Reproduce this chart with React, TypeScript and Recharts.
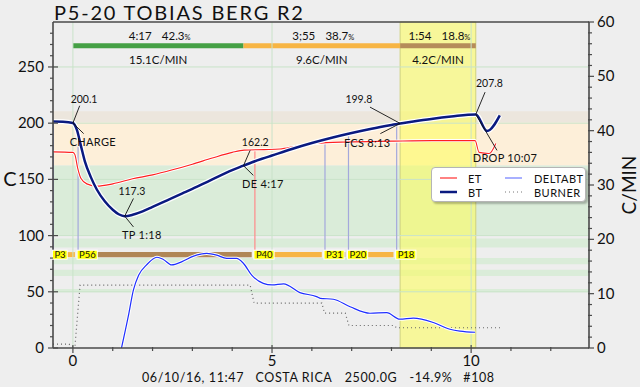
import { LineChart, Line, XAxis, YAxis, ReferenceArea, ReferenceLine, ReferenceDot, Legend } from "recharts";

const FONT = "Lato, 'DejaVu Sans', sans-serif";
const AXIS = "#4a4a4a";

// minutes after charge -> degrees C
const btCurve = [
  [-0.5, 201.5], [-0.25, 201.3], [0, 200.1], [0.1, 194], [0.2, 180], [0.3, 166], [0.45, 152], [0.6, 141],
  [0.8, 130.5], [1.0, 123], [1.15, 119], [1.3, 117.3], [1.5, 118.5], [1.75, 121.5], [2.0, 125.5], [2.25, 129.5],
  [2.5, 133.5], [2.75, 137.5], [3.0, 141.5], [3.25, 145.7], [3.5, 150], [3.75, 154.2], [4.0, 158.3], [4.283, 162.2],
  [4.5, 165.2], [4.75, 168.3], [5.0, 171.2], [5.5, 177], [6.0, 182.3], [6.5, 187], [7.0, 191.2], [7.5, 195],
  [8.0, 198.4], [8.217, 199.8], [8.5, 201.3], [9.0, 203.8], [9.5, 205.9], [10.117, 207.8], [10.4, 193], [10.72, 207],
];

const etCurve = [
  [-0.5, 174.5], [0, 174], [0.05, 172], [0.12, 160], [0.2, 151], [0.35, 146], [0.6, 144], [1.0, 146],
  [1.5, 150.5], [2.0, 154], [2.5, 158.5], [3.0, 163.5], [3.5, 169], [4.0, 174], [4.3, 176], [4.8, 176.5],
  [5.2, 177], [5.6, 179.5], [6.1, 182], [6.9, 183.3], [8.0, 184], [9.0, 184.5], [10.1, 184.5], [10.2, 174],
  [10.45, 173], [10.62, 182],
];

// C/min, right axis
const deltaBtCurve = [
  [1.22, 0], [1.39, 5.8], [1.52, 10.7], [1.65, 13.4], [1.85, 15.3], [2.11, 16.7], [2.27, 16.3], [2.48, 15.3],
  [2.74, 15.9], [3.03, 16.9], [3.36, 17.4], [3.61, 17.1], [3.86, 16.5], [4.11, 16.5], [4.28, 15.6], [4.49, 13.4],
  [4.78, 11.9], [5.0, 11.6], [5.29, 11.8], [5.7, 10.2], [6.12, 9.45], [6.21, 9.15], [6.54, 8.97], [6.96, 7.6],
  [7.46, 6.4], [7.88, 6.5], [8.21, 5.3], [8.55, 5.5], [9.05, 4.7], [9.47, 3.45], [9.72, 3.1], [10.1, 2.9],
];

// burner %, drawn on the temperature axis
const burnerCurve = [
  [-0.5, 3.5], [-0.1, 3.5], [0, 1], [0.05, 1], [0.18, 56], [4.45, 56], [4.55, 40], [6.25, 40],
  [6.32, 31], [6.84, 31], [6.93, 20], [8.06, 20], [8.13, 18], [10.75, 18],
];

const eventLabels = ["P3", "P56", "P40", "P31", "P20", "P18"];
const eventTimes = [-0.49, 0.13, 4.57, 6.33, 6.92, 8.13];
const eventTops = [201.5, 179, 176, 186.5, 191, 199.3];
const eventCurve = ["BT", "BT", "ET", "BT", "BT", "BT"];

const phaseStart = [0, 4.283, 8.217];
const phaseEnd = [4.283, 8.217, 10.117];
const phaseTime = ["4:17", "3;55", "1:54"];
const phasePct = ["42.3", "38.7", "18.8"];
const phaseRate = ["15.1C/MIN", "9.6C/MIN", "4.2C/MIN"];

const markNames = ["CHARGE", "TP 1:18", "DE 4:17", "FCS 8:13", "DROP 10:07"];
const markTimes = [0, 1.3, 4.283, 8.217, 10.117];
const markTemps = [200.1, 117.3, 162.2, 199.8, 207.8];

const infoTexts = ["06/10/16, 11:47", "COSTA RICA", "2500.0G", "-14.9%", "#108"];

const leftTicks = Array.from({ length: 29 }, (_, i) => i * 10);
const rightTicks = Array.from({ length: 31 }, (_, i) => i * 2);
const timeTicks = Array.from({ length: 13 }, (_, i) => i);

const toRows = (pts: number[][]) => pts.map(([t, v]) => ({ t, v }));

// label placement around each landmark
const upperPos = [[0.28, 221], [1.48, 138.8], [4.58, 183.2], [7.18, 220.9], [10.46, 235.6]];
const upperEnd = [[0.17, 215.5], [1.52, 133], [4.45, 175.8], [7.46, 214.3], [10.35, 227.6]];
const lowerPos = [[0.5, 183.2], [1.73, 100.4], [4.77, 146.3], [7.39, 182.7], [10.85, 169]];
const lowerEnd = [[0.27, 190.7], [1.52, 107.7], [4.53, 153.6], [7.72, 190.7], [10.65, 175.8]];

const bands = [
  { y1: 200.5, y2: 210.5, fill: "#ece6dd" },
  { y1: 162.3, y2: 200.5, fill: "#fdefd9" },
  { y1: 100.5, y2: 162.3, fill: "#daecd9" },
  { y1: 89.5, y2: 97.5, fill: "#daecd9" },
  { y1: 74.5, y2: 80, fill: "#daecd9" },
  { y1: 64, y2: 69.5, fill: "#daecd9" },
  { y1: 49.7, y2: 52.4, fill: "#daecd9" },
];

const phaseColors = ["#45a045", "#f7b544", "#b58c5a"];
const barColors = ["#f7b544", "#b08656"];

const LeftTick = (props: any) => {
  const { x, y, payload } = props;
  const v = payload.value;
  const major = v % 50 === 0;
  return (
    <g>
      <line x1={major ? x - 5 : x - 3} x2={major ? x + 5 : x} y1={y} y2={y} stroke={AXIS} strokeWidth={1.2} />
      {major && (
        <text x={x - 9} y={y + 5} textAnchor="end" fontSize={15} fontFamily={FONT} fill="#111">
          {v}
        </text>
      )}
    </g>
  );
};

const RightTick = (props: any) => {
  const { x, y, payload } = props;
  const v = payload.value;
  const major = v % 10 === 0;
  return (
    <g>
      <line x1={x - 1} x2={major ? x + 5 : x + 3} y1={y} y2={y} stroke={AXIS} strokeWidth={1.2} />
      {major && (
        <text x={x + 8} y={y + 5} textAnchor="start" fontSize={15} fontFamily={FONT} fill="#111">
          {v}
        </text>
      )}
    </g>
  );
};

const TimeTick = (props: any) => {
  const { x, y, payload } = props;
  const v = payload.value;
  const major = v % 5 === 0;
  return (
    <g>
      <line x1={x} x2={x} y1={major ? y - 3 : y - 1} y2={major ? y + 5 : y + 3} stroke={AXIS} strokeWidth={1.2} />
      {major && (
        <text x={x} y={y + 18} textAnchor="middle" fontSize={15} fontFamily={FONT} fill="#111">
          {v}
        </text>
      )}
    </g>
  );
};

const legendItems = [
  { label: "ET", color: "#ff3030", width: 1.2, dash: "" },
  { label: "DELTABT", color: "#6f7cff", width: 1.2, dash: "" },
  { label: "BT", color: "#0a1a80", width: 2.5, dash: "" },
  { label: "BURNER", color: "#777", width: 1, dash: "1 3" },
];

const LegendBox = () => (
  <div
    style={{
      position: "relative",
      width: 153,
      height: 33,
      background: "#fff",
      border: "1px solid #b5b5b5",
      borderRadius: 4,
      boxShadow: "2px 2px 2px rgba(0,0,0,0.25)",
      fontFamily: FONT,
      fontSize: 11,
      color: "#111",
    }}
  >
    {legendItems.map((item, i) => {
      const col = i % 2;
      const row = Math.floor(i / 2);
      return (
        <div key={item.label} style={{ position: "absolute", left: col === 0 ? 8 : 73, top: 4 + row * 14, height: 12, display: "flex", alignItems: "center" }}>
          <svg width={18} height={12}>
            <line x1={0} x2={17} y1={6} y2={6} stroke={item.color} strokeWidth={item.width} strokeDasharray={item.dash || undefined} />
          </svg>
          <span style={{ marginLeft: col === 0 ? 10 : 11, letterSpacing: 0.5 }}>{item.label}</span>
        </div>
      );
    })}
  </div>
);

const App = () => {
  const bt = toRows(btCurve);
  const et = toRows(etCurve);
  const dbt = toRows(deltaBtCurve);
  const burner = toRows(burnerCurve);

  return (
    <div style={{ position: "absolute", left: 0, top: 0, width: 640, height: 387, background: "#eeeeee", overflow: "hidden" }}>
      <div style={{ position: "absolute", left: 54, top: 0, fontFamily: FONT, fontSize: 20, lineHeight: "24px", letterSpacing: 1.8, color: "#111", whiteSpace: "nowrap" }}>
        P5-20 TOBIAS BERG R2
      </div>
      <LineChart width={640} height={387} margin={{ top: 22, right: 0, left: 0, bottom: 0 }}>
        <XAxis
          dataKey="t"
          type="number"
          domain={[-0.5, 12.96]}
          allowDataOverflow
          ticks={timeTicks}
          interval={0}
          tick={<TimeTick />}
          tickLine={false}
          tickSize={0}
          tickMargin={0}
          height={39}
          axisLine={{ stroke: AXIS, strokeWidth: 1.6 }}
          label={{
            content: (p: any) => {
              const vb = p.viewBox;
              const xs = [193, 294, 371, 431, 479];
              return (
                <g>
                  {infoTexts.map((s, i) => (
                    <text key={s} x={xs[i]} y={vb.y + 34} textAnchor="middle" fontSize={12.5} fontFamily={FONT} fill="#111" letterSpacing={0.6}>
                      {s}
                    </text>
                  ))}
                </g>
              );
            },
          }}
        />
        <YAxis
          yAxisId="left"
          domain={[0, 290]}
          allowDataOverflow
          ticks={leftTicks}
          interval={0}
          width={53}
          tick={<LeftTick />}
          tickLine={false}
          tickSize={0}
          tickMargin={0}
          axisLine={{ stroke: AXIS, strokeWidth: 1.6 }}
          label={{
            content: (p: any) => (
              <text x={p.viewBox.x + 10} y={186} textAnchor="middle" fontSize={20} fontFamily={FONT} fill="#111">
                C
              </text>
            ),
          }}
        />
        <YAxis
          yAxisId="right"
          orientation="right"
          domain={[0, 60]}
          allowDataOverflow
          ticks={rightTicks}
          interval={0}
          width={51}
          tick={<RightTick />}
          tickLine={false}
          tickSize={0}
          tickMargin={0}
          axisLine={{ stroke: AXIS, strokeWidth: 1.6 }}
          label={{
            content: (p: any) => (
              <text
                x={p.viewBox.x + 39}
                y={185}
                textAnchor="middle"
                fontSize={19}
                fontFamily={FONT}
                fill="#111"
                transform={`rotate(-90 ${p.viewBox.x + 39} 185)`}
                dominantBaseline="central"
              >
                C/MIN
              </text>
            ),
          }}
        />

        <ReferenceArea yAxisId="left" fill="#ffffff" fillOpacity={1} />
        {bands.map((b, i) => (
          <ReferenceArea key={`band${i}`} yAxisId="left" y1={b.y1} y2={b.y2} fill={b.fill} fillOpacity={1} />
        ))}
        <ReferenceArea yAxisId="left" x1={phaseStart[2]} x2={phaseEnd[2]} fill="#ffff55" fillOpacity={0.55} stroke="#cfd27e" strokeWidth={1} />

        {[0, 5, 10].map((t) => (
          <ReferenceLine key={`gx${t}`} yAxisId="left" x={t} stroke="#c9e3c9" strokeWidth={1} />
        ))}
        {[50, 100, 150, 200, 250].map((v) => (
          <ReferenceLine key={`gy${v}`} yAxisId="left" y={v} stroke="#c9e3c9" strokeWidth={1} />
        ))}
        <ReferenceLine yAxisId="left" y={290} stroke={AXIS} strokeWidth={1.6} />

        {eventLabels.map((lab, i) => (
          <ReferenceLine
            key={`el${lab}`}
            yAxisId="left"
            ifOverflow="visible"
            segment={[{ x: eventTimes[i], y: eventTops[i] }, { x: eventTimes[i], y: 87 }]}
            stroke={eventCurve[i] === "ET" ? "#ff8a8a" : "#a4a8dc"}
            strokeWidth={1.2}
          />
        ))}
        {eventLabels.slice(0, -1).map((lab, i) => (
          <ReferenceArea
            key={`eb${lab}`}
            yAxisId="left"
            x1={eventTimes[i]}
            x2={eventTimes[i + 1] - 0.08}
            y1={80.8}
            y2={85.3}
            fill={barColors[i % 2]}
            fillOpacity={1}
          />
        ))}

        <Line yAxisId="left" data={burner} dataKey="v" type="linear" stroke="#666" strokeWidth={1.2} strokeDasharray="1 3" dot={false} activeDot={false} isAnimationActive={false} />
        <Line yAxisId="left" data={et} dataKey="v" type="monotone" stroke="#ffffff" strokeWidth={3} dot={false} activeDot={false} isAnimationActive={false} legendType="none" />
        <Line yAxisId="left" data={et} dataKey="v" type="monotone" stroke="#ff2020" strokeWidth={1.1} dot={false} activeDot={false} isAnimationActive={false} />
        <Line yAxisId="right" data={dbt} dataKey="v" type="monotone" stroke="#ffffff" strokeWidth={3.2} dot={false} activeDot={false} isAnimationActive={false} legendType="none" />
        <Line yAxisId="right" data={dbt} dataKey="v" type="monotone" stroke="#1f2eff" strokeWidth={1.2} dot={false} activeDot={false} isAnimationActive={false} />
        <Line yAxisId="left" data={bt} dataKey="v" type="monotone" stroke="#ffffff" strokeWidth={5} dot={false} activeDot={false} isAnimationActive={false} legendType="none" />
        <Line yAxisId="left" data={bt} dataKey="v" type="monotone" stroke="#0a1a80" strokeWidth={2.5} dot={false} activeDot={false} isAnimationActive={false} />

        {eventLabels.map((lab, i) => (
          <ReferenceDot
            key={`ev${lab}`}
            yAxisId="left"
            x={Math.max(eventTimes[i], -0.49)}
            y={83}
            ifOverflow="visible"
            shape={(p: any) => {
              const w = lab.length * 5.4 + 4;
              return (
                <g>
                  <rect x={p.cx - 1} y={p.cy - 4.5} width={w} height={9} fill="#ffff00" stroke="#ffffff" strokeWidth={1} />
                  <text x={p.cx + 1} y={p.cy + 3.5} fontSize={9.5} fontFamily={FONT} fill="#111">
                    {lab}
                  </text>
                </g>
              );
            }}
          />
        ))}

        {phaseStart.map((s, i) => (
          <ReferenceArea key={`ph${i}`} yAxisId="left" x1={s} x2={phaseEnd[i]} y1={266.7} y2={271.1} fill={phaseColors[i]} fillOpacity={1} />
        ))}
        {phaseStart.map((s, i) => (
          <ReferenceDot
            key={`pt${i}`}
            yAxisId="left"
            x={(s + phaseEnd[i]) / 2}
            y={270}
            ifOverflow="visible"
            shape={(p: any) => (
              <g fontFamily={FONT} fill="#111">
                <text x={p.cx - 18} y={p.cy - 4} textAnchor="middle" fontSize={11.5}>
                  {phaseTime[i]}
                </text>
                <text x={p.cx + 18} y={p.cy - 4} textAnchor="middle" fontSize={11.5}>
                  {phasePct[i]}
                  <tspan fontSize={7.5}>%</tspan>
                </text>
                <text x={p.cx} y={p.cy + 20} textAnchor="middle" fontSize={11.5}>
                  {phaseRate[i]}
                </text>
              </g>
            )}
          />
        ))}

        {markNames.map((name, i) => (
          <ReferenceLine
            key={`lu${name}`}
            yAxisId="left"
            ifOverflow="visible"
            segment={[{ x: markTimes[i], y: markTemps[i] }, { x: upperEnd[i][0], y: upperEnd[i][1] }]}
            stroke="#111"
            strokeWidth={0.9}
          />
        ))}
        {markNames.map((name, i) => (
          <ReferenceLine
            key={`ll${name}`}
            yAxisId="left"
            ifOverflow="visible"
            segment={[{ x: markTimes[i], y: markTemps[i] }, { x: lowerEnd[i][0], y: lowerEnd[i][1] }]}
            stroke="#111"
            strokeWidth={0.9}
          />
        ))}
        {markNames.map((name, i) => (
          <ReferenceDot
            key={`tu${name}`}
            yAxisId="left"
            x={upperPos[i][0]}
            y={upperPos[i][1]}
            ifOverflow="visible"
            shape={(p: any) => (
              <text x={p.cx} y={p.cy + 3.5} textAnchor="middle" fontSize={10.5} fontFamily={FONT} fill="#111">
                {markTemps[i].toFixed(1)}
              </text>
            )}
          />
        ))}
        {markNames.map((name, i) => (
          <ReferenceDot
            key={`tl${name}`}
            yAxisId="left"
            x={lowerPos[i][0]}
            y={lowerPos[i][1]}
            ifOverflow="visible"
            shape={(p: any) => (
              <text x={p.cx} y={p.cy + 4} textAnchor="middle" fontSize={11} fontFamily={FONT} fill="#111" letterSpacing={0.3}>
                {name}
              </text>
            )}
          />
        ))}

        <Legend layout="vertical" align="center" verticalAlign="middle" wrapperStyle={{ left: 431, top: 167, width: 156 }} content={() => <LegendBox />} />
      </LineChart>
    </div>
  );
};

export default App;
